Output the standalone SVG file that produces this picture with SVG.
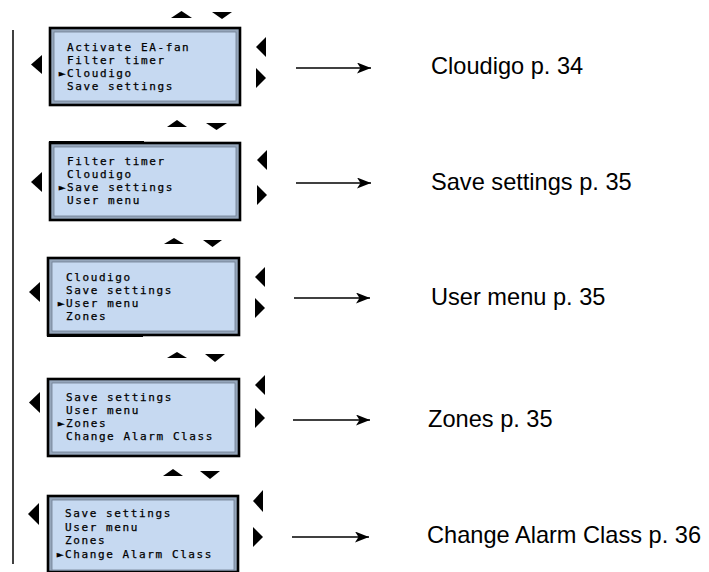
<svg xmlns="http://www.w3.org/2000/svg" width="709" height="572" viewBox="0 0 709 572">
  <style>
    .frame { fill: #95a6bb; stroke: #000; stroke-width: 2.6; }
    .screen { fill: #c6d9f1; stroke: #6e7d92; stroke-width: 0.8; }
    .lcd { font-family: "DejaVu Sans Mono", "Liberation Mono", monospace; font-size: 11px; letter-spacing: 1.6px; fill: #000; stroke: #000; stroke-width: 0.25; }
    .label { font-family: "Liberation Sans", Arial, sans-serif; font-size: 23.6px; fill: #000; }
    .key { fill: #000; }
    .edge { stroke: #000; stroke-width: 1.4; fill: none; marker-end: url(#head); }
  </style>
  <defs>
    <marker id="head" markerUnits="userSpaceOnUse" markerWidth="16" markerHeight="12" refX="14" refY="5.5" orient="auto">
      <path d="M0,0 L14,5.5 L0,11 L3.5,5.5 z" fill="#000"/>
    </marker>
  </defs>

  <rect width="709" height="572" fill="#fff"/>

  <!-- menu scroll bar on the left -->
  <line x1="13" y1="30" x2="13" y2="564" stroke="#000" stroke-width="1.5"/>

  <!-- screen 1 -->
  <g id="screen1">
    <rect class="frame" x="50" y="28" width="190" height="77"/>
    <rect class="screen" x="54" y="32" width="182" height="69"/>
    <text class="lcd" x="67" y="51">Activate EA-fan</text>
    <text class="lcd" x="67" y="64">Filter timer</text>
    <text class="lcd" x="58.8" y="77">►Cloudigo</text>
    <text class="lcd" x="67" y="90">Save settings</text>
    <polygon class="key" points="171,18 192,18 181.5,11"/>
    <polygon class="key" points="212,12 232,12 222,19"/>
    <polygon class="key" points="42,55 42,74 31,64.5"/>
    <polygon class="key" points="266,37 266,57 256,47"/>
    <polygon class="key" points="256,68 256,88 266,78"/>
  </g>

  <!-- screen 2 -->
  <g id="screen2">
    <rect class="frame" x="50" y="143" width="190" height="77"/>
    <rect class="screen" x="54" y="147" width="182" height="69"/>
    <line x1="49" y1="141.5" x2="144" y2="141.5" stroke="#000" stroke-width="1"/>
    <text class="lcd" x="67" y="165">Filter timer</text>
    <text class="lcd" x="67" y="178">Cloudigo</text>
    <text class="lcd" x="58.8" y="191">►Save settings</text>
    <text class="lcd" x="67" y="204">User menu</text>
    <polygon class="key" points="167,127 187,127 177,120"/>
    <polygon class="key" points="206,123 227,123 216.5,130"/>
    <polygon class="key" points="42,172 42,192 31,182"/>
    <polygon class="key" points="267,150 267,170 257,160"/>
    <polygon class="key" points="257,185 257,205 267,195"/>
  </g>

  <!-- screen 3 -->
  <g id="screen3">
    <rect class="frame" x="48" y="258" width="191" height="77"/>
    <rect class="screen" x="52" y="262" width="183" height="69"/>
    <line x1="47" y1="336.5" x2="143" y2="336.5" stroke="#000" stroke-width="1"/>
    <text class="lcd" x="66" y="281">Cloudigo</text>
    <text class="lcd" x="66" y="294">Save settings</text>
    <text class="lcd" x="57.8" y="307">►User menu</text>
    <text class="lcd" x="66" y="320">Zones</text>
    <polygon class="key" points="164,244 184,244 174,238"/>
    <polygon class="key" points="203,240 222,240 212.5,247"/>
    <polygon class="key" points="40,282 40,302 29,292"/>
    <polygon class="key" points="265,267 265,287 255,277"/>
    <polygon class="key" points="255,298 255,318 265,308"/>
  </g>

  <!-- screen 4 -->
  <g id="screen4">
    <rect class="frame" x="48" y="379" width="191" height="77"/>
    <rect class="screen" x="52" y="383" width="183" height="69"/>
    <text class="lcd" x="66" y="401">Save settings</text>
    <text class="lcd" x="66" y="414">User menu</text>
    <text class="lcd" x="57.8" y="427">►Zones</text>
    <text class="lcd" x="66" y="440">Change Alarm Class</text>
    <polygon class="key" points="167,358 187,358 177,352"/>
    <polygon class="key" points="205,354 225,354 215,362"/>
    <polygon class="key" points="40,392 40,413 29,402.5"/>
    <polygon class="key" points="265,375 265,395 255,385"/>
    <polygon class="key" points="255,408 255,428 265,418"/>
  </g>

  <!-- screen 5 -->
  <g id="screen5">
    <rect class="frame" x="48" y="496" width="190" height="76"/>
    <rect class="screen" x="52" y="500" width="182" height="70"/>
    <text class="lcd" x="65" y="517">Save settings</text>
    <text class="lcd" x="65" y="531">User menu</text>
    <text class="lcd" x="65" y="544">Zones</text>
    <text class="lcd" x="56.8" y="558">►Change Alarm Class</text>
    <polygon class="key" points="163,476 183,476 173,469"/>
    <polygon class="key" points="200,471 220,471 210,479"/>
    <polygon class="key" points="39,503 39,525 28,514"/>
    <polygon class="key" points="263,490 263,512 253,501"/>
    <polygon class="key" points="253,527 253,547 263,537"/>
  </g>

  <!-- page references -->
  <g id="ref1"><text class="label" x="431" y="74">Cloudigo p. 34</text></g>
  <g id="ref2"><text class="label" x="431" y="190">Save settings p. 35</text></g>
  <g id="ref3"><text class="label" x="431" y="305">User menu p. 35</text></g>
  <g id="ref4"><text class="label" x="428" y="427">Zones p. 35</text></g>
  <g id="ref5"><text class="label" x="427" y="543">Change Alarm Class p. 36</text></g>

  <!-- connectors -->
  <g id="connectors">
    <line class="edge" x1="296" y1="68" x2="371" y2="68"/>
    <line class="edge" x1="296" y1="183" x2="371" y2="183"/>
    <line class="edge" x1="294" y1="298" x2="370" y2="298"/>
    <line class="edge" x1="293" y1="420" x2="370" y2="420"/>
    <line class="edge" x1="292" y1="537" x2="369" y2="537"/>
  </g>
</svg>
